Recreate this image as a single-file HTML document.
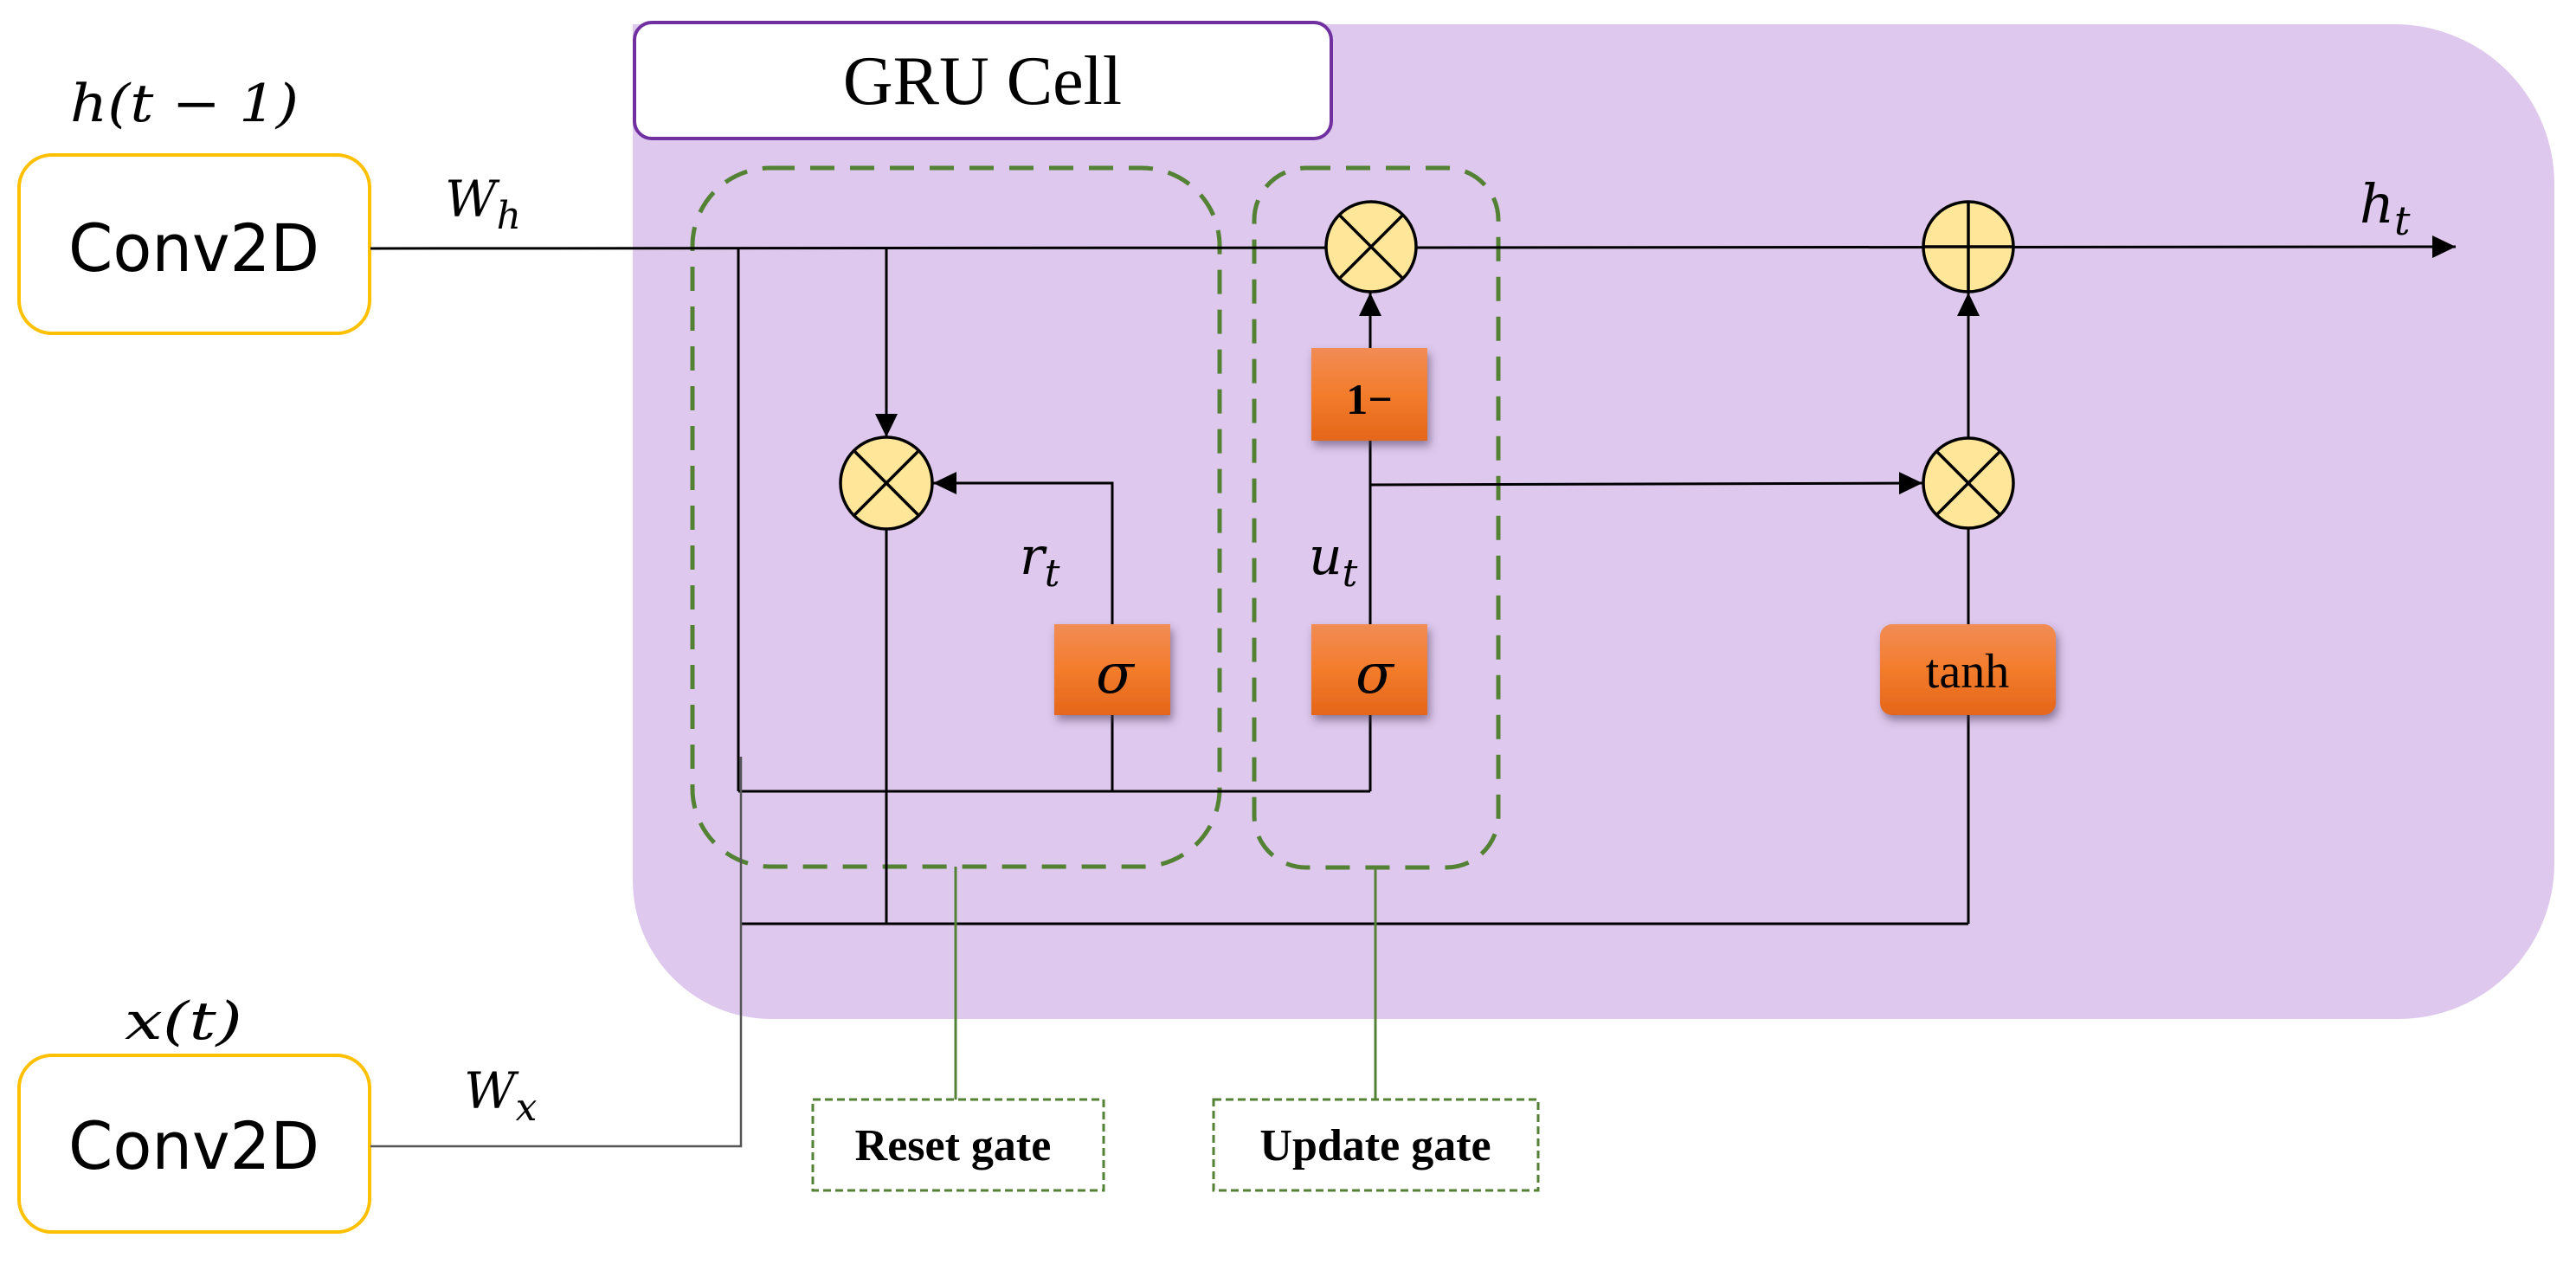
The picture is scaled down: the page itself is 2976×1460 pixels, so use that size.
<!DOCTYPE html>
<html><head><meta charset="utf-8"><style>
html,body{margin:0;padding:0;background:#fff;}
svg{display:block;}
.m{font-family:"DejaVu Serif","Liberation Serif",serif;font-style:italic;}
</style></head><body>
<svg width="2976" height="1460" viewBox="0 0 2976 1460" xmlns="http://www.w3.org/2000/svg">
<defs>
<linearGradient id="og" x1="0" y1="0" x2="0" y2="1">
<stop offset="0" stop-color="#f18c55"/><stop offset="0.5" stop-color="#f37c2c"/><stop offset="1" stop-color="#e4661a"/>
</linearGradient>
<filter id="sh" x="-30%" y="-30%" width="160%" height="170%">
<feDropShadow dx="3" dy="6" stdDeviation="5" flood-color="#4a3a5a" flood-opacity="0.55"/>
</filter>
<marker id="ar" markerWidth="27" markerHeight="26" refX="10" refY="5" orient="auto" markerUnits="userSpaceOnUse" viewBox="0 0 10 10" preserveAspectRatio="none">
<path d="M0,0 L10,5 L0,10 z" fill="#000"/>
</marker>
</defs>
<!-- purple background -->
<path d="M731,28 H2766 A185,185 0 0 1 2951,213 V997 A180,180 0 0 1 2771,1177 H891 A160,160 0 0 1 731,1017 Z" fill="#dec8ed"/>
<!-- GRU Cell -->
<rect x="733" y="26" width="805" height="134" rx="20" fill="#fff" stroke="#7030a0" stroke-width="4"/>
<text x="1135" y="120" font-family="Liberation Serif,serif" font-size="80" text-anchor="middle">GRU Cell</text>

<!-- Conv boxes -->
<rect x="22" y="179" width="405" height="206" rx="38" fill="#fff" stroke="#ffc000" stroke-width="4"/>
<text x="224" y="313" font-family="DejaVu Sans,Liberation Sans,sans-serif" font-size="76" text-anchor="middle" textLength="290" lengthAdjust="spacingAndGlyphs">Conv2D</text>
<rect x="22" y="1219" width="405" height="204" rx="38" fill="#fff" stroke="#ffc000" stroke-width="4"/>
<text x="224" y="1350" font-family="DejaVu Sans,Liberation Sans,sans-serif" font-size="76" text-anchor="middle" textLength="290" lengthAdjust="spacingAndGlyphs">Conv2D</text>

<text class="m" x="81" y="140" font-size="60" textLength="264" lengthAdjust="spacingAndGlyphs">h(t − 1)</text>
<text class="m" x="144" y="1200" font-size="60" textLength="136" lengthAdjust="spacingAndGlyphs">x(t)</text>
<text class="m" x="514" y="250" font-size="58">W<tspan font-size="44" dy="14">h</tspan></text>
<text class="m" x="536" y="1280" font-size="58">W<tspan font-size="44" dy="14">x</tspan></text>

<!-- dashed gate boxes -->
<rect x="800" y="194" width="609" height="807" rx="90" fill="none" stroke="#548235" stroke-width="5" stroke-dasharray="28,18"/>
<rect x="1449" y="194" width="282" height="808" rx="60" fill="none" stroke="#548235" stroke-width="5" stroke-dasharray="28,18"/>

<g stroke="#000" stroke-width="3" fill="none">
<line x1="428" y1="287" x2="2837" y2="285" marker-end="url(#ar)"/>
<line x1="853" y1="287" x2="853" y2="914"/>
<line x1="853" y1="914" x2="1583" y2="914"/>
<line x1="856" y1="1067" x2="2274" y2="1067"/>
<line x1="1024" y1="287" x2="1024" y2="505" marker-end="url(#ar)"/>
<line x1="1024" y1="611" x2="1024" y2="1067"/>
<polyline points="1285,721 1285,558 1078,558" marker-end="url(#ar)"/>
<line x1="1285" y1="826" x2="1285" y2="914"/>
<line x1="1583" y1="914" x2="1583" y2="826"/>
<line x1="1583" y1="721" x2="1583" y2="509"/>
<line x1="1583" y1="402" x2="1583" y2="338" marker-end="url(#ar)"/>
<line x1="1583" y1="560" x2="2221" y2="558" marker-end="url(#ar)"/>
<line x1="2274" y1="505" x2="2274" y2="338" marker-end="url(#ar)"/>
<line x1="2274" y1="611" x2="2274" y2="721"/>
<line x1="2274" y1="826" x2="2274" y2="1067"/>
</g>
<polyline points="856,874 856,1324 428,1324" fill="none" stroke="#555" stroke-width="2.5"/>

<!-- circles -->
<g stroke="#000" stroke-width="3.5" fill="#ffe699">
<circle cx="1024" cy="558" r="53"/>
<circle cx="1584" cy="285" r="52"/>
<circle cx="2274" cy="285" r="52"/>
<circle cx="2274" cy="558" r="52"/>
</g>
<g stroke="#000" stroke-width="3.5">
<line x1="987" y1="521" x2="1061" y2="595"/><line x1="1061" y1="521" x2="987" y2="595"/>
<line x1="1547" y1="248" x2="1621" y2="322"/><line x1="1621" y1="248" x2="1547" y2="322"/>
<line x1="2237" y1="521" x2="2311" y2="595"/><line x1="2311" y1="521" x2="2237" y2="595"/>
<line x1="2274" y1="233" x2="2274" y2="337"/><line x1="2222" y1="285" x2="2326" y2="285"/>
</g>

<!-- orange boxes -->
<g filter="url(#sh)">
<rect x="1218" y="721" width="134" height="105" fill="url(#og)"/>
<rect x="1515" y="721" width="134" height="105" fill="url(#og)"/>
<rect x="1515" y="402" width="134" height="107" fill="url(#og)"/>
<rect x="2172" y="721" width="203" height="105" rx="14" fill="url(#og)"/>
</g>
<text class="m" x="1288" y="800" font-size="64" text-anchor="middle">σ</text>
<text class="m" x="1588" y="800" font-size="64" text-anchor="middle">σ</text>
<text x="1582" y="478" font-family="Liberation Serif,serif" font-weight="bold" font-size="50" text-anchor="middle">1−</text>
<text x="2273" y="794" font-family="Liberation Serif,serif" font-size="56" text-anchor="middle">tanh</text>

<text class="m" x="1178" y="663" font-size="60">r<tspan font-size="44" dy="14">t</tspan></text>
<text class="m" x="1512" y="663" font-size="60">u<tspan font-size="44" dy="14">t</tspan></text>
<text class="m" x="2726" y="257" font-size="62">h<tspan font-size="46" dy="14">t</tspan></text>

<!-- gate labels -->
<line x1="1104" y1="1001" x2="1104" y2="1270" stroke="#548235" stroke-width="3"/>
<line x1="1589" y1="1002" x2="1589" y2="1270" stroke="#548235" stroke-width="3"/>
<rect x="939" y="1270" width="336" height="105" fill="#fff" stroke="#548235" stroke-width="3" stroke-dasharray="9,5"/>
<rect x="1402" y="1270" width="375" height="105" fill="#fff" stroke="#548235" stroke-width="3" stroke-dasharray="9,5"/>
<text x="1101" y="1340" font-family="Liberation Serif,serif" font-weight="bold" font-size="52" text-anchor="middle">Reset gate</text>
<text x="1589" y="1340" font-family="Liberation Serif,serif" font-weight="bold" font-size="52" text-anchor="middle">Update gate</text>
</svg>
</body></html>
